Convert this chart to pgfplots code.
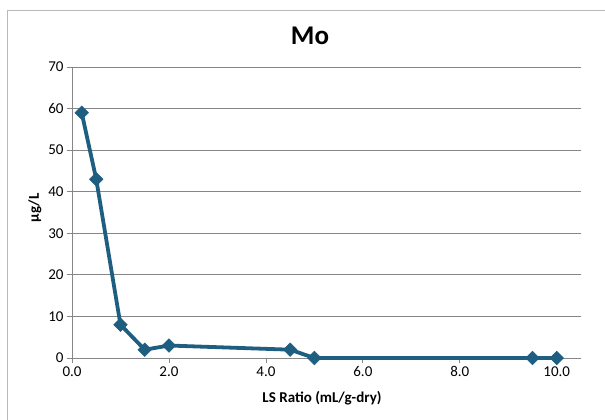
\documentclass[border=0pt]{standalone}
\usepackage{pgfplots}
\pgfplotsset{compat=1.18}
\usepackage{fontspec}
\setmainfont{Carlito}
\definecolor{lc}{RGB}{30,94,128}
\definecolor{ax}{RGB}{134,134,134}
\begin{document}
\begin{tikzpicture}[x=1pt,y=1pt]
\useasboundingbox (0,0) rectangle (605,420);
\draw[gray!55, line width=0.8pt] (7,-2) -- (7,410) -- (607,410);
\node[font=\bfseries\fontsize{27}{30}\selectfont] at (310,384) {Mo};
\begin{axis}[at={(72pt,62pt)}, anchor=south west, scale only axis,
  width=509pt, height=291pt,
  xmin=0, xmax=10.5, ymin=0, ymax=70,
  xtick={0,2,4,6,8,10}, ytick={0,10,...,70},
  axis x line*=bottom, axis y line*=left,
  axis line style={ax, line width=0.8pt},
  ymajorgrids, grid style={ax, line width=0.8pt},
  tick style={ax, line width=0.8pt},
  tick align=outside, major tick length=5pt,
  /pgf/number format/assume math mode=true,
  xticklabel style={/pgf/number format/.cd, fixed, fixed zerofill, precision=1},
  ticklabel style={font=\fontsize{15}{17}\selectfont},
  clip=false]
\addplot[lc, line width=3.8pt, mark=square*, mark size=4.8pt,
  mark options={rotate=45, line width=0.5pt}] coordinates {
(0.2,59) (0.5,43) (1.0,8) (1.5,2) (2.0,3) (4.5,2) (5.0,0) (9.5,0) (10.0,0)};
\end{axis}
\node[font=\bfseries\fontsize{15}{17}\selectfont] at (322,22) {LS Ratio (mL/g-dry)};
\node[font=\bfseries\fontsize{15}{17}\selectfont, rotate=90] at (35,212) {µg/L};
\end{tikzpicture}
\end{document}
